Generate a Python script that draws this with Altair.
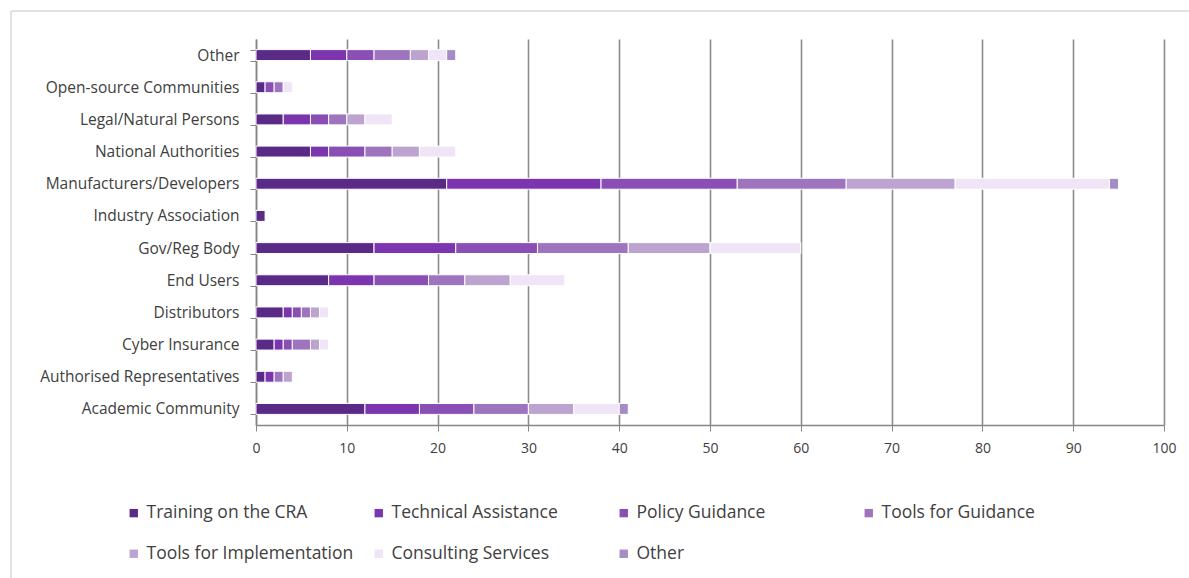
import altair as alt
import pandas as pd

# Stakeholder groups, listed top to bottom
groups = [
    "Other",
    "Open-source Communities",
    "Legal/Natural Persons",
    "National Authorities",
    "Manufacturers/Developers",
    "Industry Association",
    "Gov/Reg Body",
    "End Users",
    "Distributors",
    "Cyber Insurance",
    "Authorised Representatives",
    "Academic Community",
]

# Support types, in stacking order
support_types = [
    "Training on the CRA",
    "Technical Assistance",
    "Policy Guidance",
    "Tools for Guidance",
    "Tools for Implementation",
    "Consulting Services",
    "Other",
]

# Responses per support type, one list per support type (aligned with `groups`)
training = [6, 1, 3, 6, 21, 1, 13, 8, 3, 2, 1, 12]
technical = [4, 0, 3, 2, 17, 0, 9, 5, 1, 1, 1, 6]
policy = [3, 1, 2, 4, 15, 0, 9, 6, 1, 1, 0, 6]
tools_guidance = [4, 1, 2, 3, 12, 0, 10, 4, 1, 2, 1, 6]
tools_impl = [2, 0, 2, 3, 12, 0, 9, 5, 1, 1, 1, 5]
consulting = [2, 1, 3, 4, 17, 0, 10, 6, 1, 1, 0, 5]
other = [1, 0, 0, 0, 1, 0, 0, 0, 0, 0, 0, 1]

series = [training, technical, policy, tools_guidance, tools_impl, consulting, other]

palette = ["#5b2a86", "#7b35ae", "#8a4fb4", "#9e74bf", "#bca3d0", "#efe5f6", "#a68cc4"]

x_ticks = list(range(0, 101, 10))

rows = []
for k, (name, values) in enumerate(zip(support_types, series)):
    for g, v in zip(groups, values):
        if v > 0:
            rows.append({"group": g, "support": name, "count": v, "order": k})
df = pd.DataFrame(rows)

FONT = "Open Sans"
TEXT = "#404040"
AXIS = "#868686"

bars = alt.Chart(df).mark_bar(stroke="white", strokeWidth=1).encode(
    y=alt.Y(
        "group:N",
        sort=groups,
        scale=alt.Scale(paddingInner=0.66, paddingOuter=0.33),
        axis=alt.Axis(
            title=None,
            tickBand="extent",
            tickSize=6,
            tickColor=AXIS,
            domainColor=AXIS,
            domainWidth=1.5,
            labelPadding=11,
            labelFontSize=15.5,
            labelColor=TEXT,
            labelFont=FONT,
            labelLimit=300,
        ),
    ),
    x=alt.X(
        "count:Q",
        stack="zero",
        scale=alt.Scale(domain=[0, 100], nice=False),
        axis=alt.Axis(
            title=None,
            values=x_ticks,
            grid=True,
            gridColor="#8c8c8c",
            gridWidth=1.6,
            tickSize=6,
            tickColor=AXIS,
            domainColor=AXIS,
            domainWidth=1.5,
            labelPadding=10,
            labelFlush=False,
            labelFontSize=14,
            labelColor=TEXT,
            labelFont=FONT,
        ),
    ),
    color=alt.Color(
        "support:N",
        scale=alt.Scale(domain=support_types, range=palette),
        legend=alt.Legend(
            title=None,
            orient="none",
            legendX=-131,
            legendY=465,
            direction="horizontal",
            columns=4,
            gridAlign="all",
            columnPadding=16,
            rowPadding=22,
            symbolType="square",
            symbolSize=70,
            symbolStrokeWidth=0,
            labelFontSize=17.5,
            labelFont=FONT,
            labelColor=TEXT,
            labelOffset=4,
            labelLimit=400,
        ),
    ),
    order=alt.Order("order:Q", sort="ascending"),
)

# Light frame lines along the top and left of the figure
frame_src = alt.Chart(pd.DataFrame({"k": [0]}))
frame_top = frame_src.mark_rule(color="#d9d9d9", strokeWidth=1.5).encode(
    x=alt.value(-245), x2=alt.value(940), y=alt.value(-28)
)
frame_left = frame_src.mark_rule(color="#d9d9d9", strokeWidth=1.5).encode(
    x=alt.value(-245), y=alt.value(-28), y2=alt.value(545)
)

chart = (
    alt.layer(bars, frame_top, frame_left)
    .properties(
        width=908,
        height=386,
        autosize=alt.AutoSizeParams(type="none"),
        padding={"left": 256, "top": 39, "right": 25, "bottom": 153},
        background="white",
    )
    .configure_view(stroke=None)
)

chart.save("out.html", embed_options={"renderer": "svg", "actions": False})
